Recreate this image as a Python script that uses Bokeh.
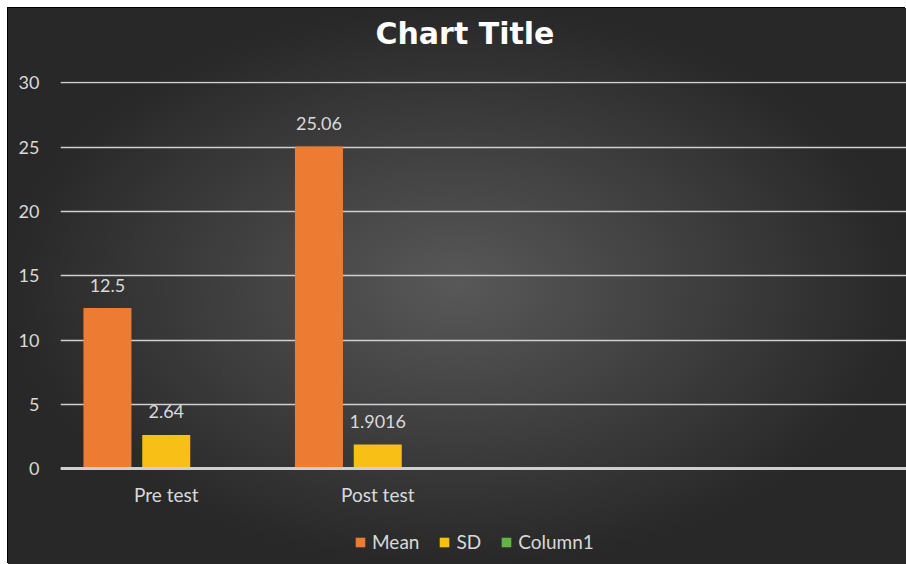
from bokeh.plotting import figure
from bokeh.models import FactorRange, FixedTicker, Legend, LegendItem, Title, ColumnDataSource, Range1d
from bokeh.transform import dodge
from bokeh.core.properties import value
from bokeh.embed import file_html
from bokeh.resources import INLINE

# ---- data ----
categories = ["Pre test", "Post test"]
axis_factors = ["Pre test", "Post test", " ", "  "]
mean_values = [12.5, 25.06]
sd_values = [2.64, 1.9016]
column1_values = [float("nan"), float("nan")]
mean_labels = ["12.5", "25.06"]
sd_labels = ["2.64", "1.9016"]
y_ticks = [0, 5, 10, 15, 20, 25, 30]
title_text = "Chart Title"
series_names = ["Mean", "SD", "Column1"]

FONT = "Lato"
TXT = "#d9d9d9"

# frame runs to the bottom of the chart; the x axis is pinned at y = 0
p = figure(width=898, height=556, x_range=FactorRange(*axis_factors), y_range=Range1d(-7.42, 30.1),
           output_backend="svg", toolbar_location=None,
           min_border_left=52, min_border_right=0, min_border_top=72, min_border_bottom=0)
p.background_fill_color = None
p.border_fill_color = None
p.outline_line_color = None
p.styles = {
    "background": "radial-gradient(ellipse closest-side at 50% 50%, #585858 0%, #282828 100%)",
    "box-shadow": "-1px -1px 0 0 #000",
    "margin-left": "8px",
    "margin-top": "8px",
}

src = ColumnDataSource(dict(cat=categories, mean=mean_values, sd=sd_values, col1=column1_values,
                            mean_lab=mean_labels, sd_lab=sd_labels))

bw = 0.227
r_mean = p.vbar(x=dodge("cat", -0.278, range=p.x_range), top="mean", width=bw, source=src,
                fill_color="#ee7b32", line_color=None)
r_sd = p.vbar(x=dodge("cat", 0.0, range=p.x_range), top="sd", width=bw, source=src,
              fill_color="#f8bf16", line_color=None)
r_col1 = p.vbar(x=dodge("cat", 0.278, range=p.x_range), top="col1", width=bw, source=src,
                fill_color="#62b443", line_color=None)

for off, col, lab in [(-0.278, "mean", "mean_lab"), (0.0, "sd", "sd_lab")]:
    p.text(x=dodge("cat", off, range=p.x_range), y=col, text=lab, source=src,
           text_align="center", text_baseline="alphabetic", y_offset=-23,
           text_font=value(FONT), text_font_size="18px", text_color=TXT)

# axes
p.yaxis.ticker = FixedTicker(ticks=y_ticks)
p.yaxis.axis_line_color = None
p.yaxis.major_tick_line_color = None
p.yaxis.minor_tick_line_color = None
p.yaxis.major_tick_in = 0
p.yaxis.major_tick_out = 0
p.yaxis.major_label_standoff = 21
p.yaxis.major_label_text_font = FONT
p.yaxis.major_label_text_font_size = "18px"
p.yaxis.major_label_text_color = TXT

p.xaxis.fixed_location = 0
p.xaxis.axis_line_color = "#cfcfcf"
p.xaxis.axis_line_width = 3
p.xaxis.major_tick_line_color = None
p.xaxis.minor_tick_line_color = None
p.xaxis.major_tick_in = 0
p.xaxis.major_tick_out = 0
p.xaxis.major_label_standoff = 14
p.xaxis.major_label_text_font = FONT
p.xaxis.major_label_text_font_size = "19px"
p.xaxis.major_label_text_color = TXT

p.xgrid.grid_line_color = None
p.ygrid.grid_line_color = "#d0d0d0"
p.ygrid.grid_line_width = 1.5

legend = Legend(items=[LegendItem(label=series_names[0], renderers=[r_mean]),
                       LegendItem(label=series_names[1], renderers=[r_sd]),
                       LegendItem(label=series_names[2], renderers=[r_col1])],
                location=(294, 11), orientation="horizontal", padding=0, margin=0,
                spacing=19, glyph_width=12, glyph_height=12, label_standoff=6,
                label_text_font=FONT, label_text_font_size="19px", label_text_color=TXT,
                background_fill_alpha=0, border_line_color=None)
p.add_layout(legend)

spacer = Title(text="\u00a0", text_font_size="20px", standoff=2)
p.add_layout(spacer, "above")
title = Title(text=title_text, align="left", offset=315, text_font="DejaVu Sans",
              text_font_style="bold", text_font_size="30px", text_color="#ffffff")
p.add_layout(title, "above")

open("out.html", "w").write(file_html(p, INLINE))
